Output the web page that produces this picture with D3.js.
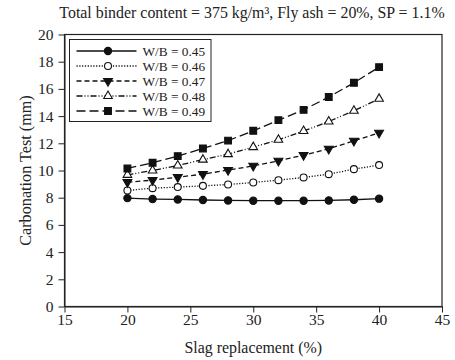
<!DOCTYPE html>
<html>
<head>
<meta charset="utf-8">
<script src="https://cdn.jsdelivr.net/npm/d3@7"></script>
<style>
	body { margin: 0; background: #fff; }
	svg text { font-family: 'Liberation Serif', 'Times New Roman', serif; fill: #222; }
	.axis path, .axis line { stroke: #222; }
</style>
</head>
<body>
<div id="chart"></div>
<script>
// data
const slag = [ 20, 22, 24, 26, 28, 30, 32, 34, 36, 38, 40 ];
const wb045 = [ 7.97, 7.9, 7.87, 7.83, 7.8, 7.78, 7.78, 7.78, 7.8, 7.85, 7.93 ];
const wb046 = [ 8.53, 8.7, 8.78, 8.87, 8.97, 9.12, 9.29, 9.49, 9.73, 10.1, 10.4 ];
const wb047 = [ 9.14, 9.29, 9.51, 9.73, 10.03, 10.34, 10.71, 11.13, 11.6, 12.18, 12.77 ];
const wb048 = [ 9.68, 10.0, 10.37, 10.8, 11.2, 11.72, 12.26, 12.9, 13.6, 14.39, 15.27 ];
const wb049 = [ 10.15, 10.57, 11.06, 11.62, 12.2, 12.92, 13.7, 14.46, 15.4, 16.45, 17.6 ];
const seriesNames = [ 'W/B = 0.45', 'W/B = 0.46', 'W/B = 0.47', 'W/B = 0.48', 'W/B = 0.49' ];
const xTicks = [ 15, 20, 25, 30, 35, 40, 45 ];
const yTicks = [ 0, 2, 4, 6, 8, 10, 12, 14, 16, 18, 20 ];

const styles = [
	{ dash: null, symbol: d3.symbolCircle, fill: '#111', size: 42 },
	{ dash: '1.2,1.6', symbol: d3.symbolCircle, fill: '#fff', size: 38 },
	{ dash: '5,3', symbol: 'tridown', fill: '#111', size: 34 },
	{ dash: '6,2,1,2,1,2', symbol: d3.symbolTriangle, fill: '#fff', size: 32 },
	{ dash: '9,4', symbol: d3.symbolSquare, fill: '#111', size: 46 }
];

const seriesValues = [ wb045, wb046, wb047, wb048, wb049 ];

const width = 455, height = 360;
const margin = { top: 34.5, right: 13, bottom: 53.5, left: 64.5 };

const svg = d3.select('#chart').append('svg').attr('width', width).attr('height', height);

const x = d3.scaleLinear().domain([ 15, 45 ]).range([ margin.left, width - margin.right ]);
const y = d3.scaleLinear().domain([ 0, 20 ]).range([ height - margin.bottom, margin.top ]);

// frame
svg.append('rect')
	.attr('x', x(15)).attr('y', y(20))
	.attr('width', x(45) - x(15)).attr('height', y(0) - y(20))
	.attr('fill', 'none').attr('stroke', '#222').attr('stroke-width', 1.2);

svg.append('g')
	.attr('class', 'axis')
	.attr('transform', `translate(0,${y(0)})`)
	.call(d3.axisBottom(x).tickValues(xTicks).tickSize(6).tickPadding(1).tickSizeOuter(0))
	.call(g => g.selectAll('text').attr('font-size', 15.5));

svg.append('g')
	.attr('class', 'axis')
	.attr('transform', `translate(${x(15)},0)`)
	.call(d3.axisLeft(y).tickValues(yTicks).tickSize(6).tickPadding(5).tickSizeOuter(0))
	.call(g => g.selectAll('text').attr('font-size', 15.5));

svg.selectAll('.axis text').style('font-family', "'Liberation Serif', serif").attr('fill', '#222');

// titles
svg.append('text')
	.attr('x', 252).attr('y', 17.5)
	.attr('text-anchor', 'middle').attr('font-size', 15.9)
	.text('Total binder content = 375 kg/m³, Fly ash = 20%, SP = 1.1%');

svg.append('text')
	.attr('x', (x(15) + x(45)) / 2).attr('y', 353)
	.attr('text-anchor', 'middle').attr('font-size', 15.9)
	.text('Slag replacement (%)');

svg.append('text')
	.attr('transform', `translate(31,${(y(0) + y(20)) / 2}) rotate(-90)`)
	.attr('text-anchor', 'middle').attr('font-size', 16.2)
	.text('Carbonation Test (mm)');

function marker(sel, st) {
	if (st.symbol === 'tridown') {
		sel.attr('d', d3.symbol().type(d3.symbolTriangle).size(st.size)()).attr('transform', function() {
			return d3.select(this).attr('transform') + ' rotate(180)';
		});
	} else {
		sel.attr('d', d3.symbol().type(st.symbol).size(st.size)());
	}
	sel.attr('fill', st.fill).attr('stroke', '#111').attr('stroke-width', 1.1);
}

const line = d3.line().x((d, i) => x(slag[i])).y(d => y(d));

seriesValues.forEach(function(vals, k) {
	const st = styles[k];
	svg.append('path')
		.attr('d', line(vals))
		.attr('fill', 'none').attr('stroke', '#111').attr('stroke-width', 1.3)
		.attr('stroke-dasharray', st.dash);
	svg.append('g').selectAll('path')
		.data(vals)
		.enter()
		.append('path')
		.attr('transform', (d, i) => `translate(${x(slag[i])},${y(d)})`)
		.call(marker, st);
});

// legend
const legend = svg.append('g').attr('transform', 'translate(69.5,39.5)');
legend.append('rect')
	.attr('width', 141.5).attr('height', 82)
	.attr('fill', '#fff').attr('stroke', '#222').attr('stroke-width', 1);

seriesNames.forEach(function(name, k) {
	const st = styles[k];
	const ly = 11.5 + k * 15;
	legend.append('line')
		.attr('x1', 7).attr('x2', 67).attr('y1', ly).attr('y2', ly)
		.attr('stroke', '#111').attr('stroke-width', 1.3)
		.attr('stroke-dasharray', st.dash);
	legend.append('path')
		.attr('transform', `translate(38.5,${ly})`)
		.call(marker, st);
	legend.append('text')
		.attr('x', 73).attr('y', ly + 4.5)
		.attr('font-size', 13.3)
		.text(name);
});
</script>
</body>
</html>
